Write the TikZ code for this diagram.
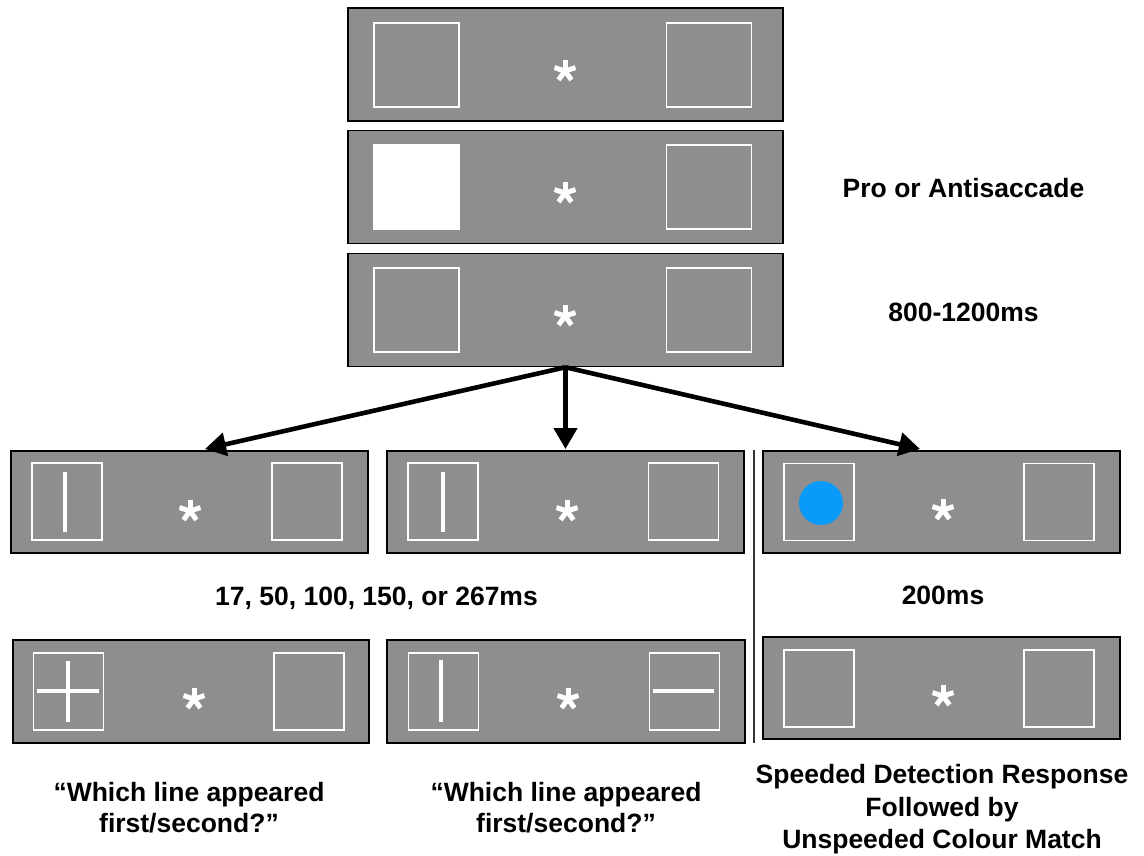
\documentclass[tikz,border=0pt]{standalone}
\usepackage{fontspec}
\setmainfont{Liberation Sans}
\usetikzlibrary{arrows.meta}
\definecolor{scr}{HTML}{8E8E8E}
\definecolor{dot}{HTML}{0A9BFA}
\tikzset{
  panel/.style={draw=black, line width=1.5pt, fill=scr, inner sep=0pt, minimum width=#1, minimum height=102pt},
  panel/.default=357pt,
  tpanel/.style={draw=black, line width=1.5pt, fill=scr, inner sep=0pt, minimum width=435pt, minimum height=113pt},
  tbox/.style={draw=white, line width=1.6pt, inner sep=0pt, minimum width=85pt, minimum height=84pt},
  bbox/.style={draw=white, line width=1.6pt, inner sep=0pt, minimum width=70pt, minimum height=77pt},
  bar/.style={draw=white, line width=3.5pt},
  flow/.style={line width=4.6pt, -{Triangle[length=21pt,width=23pt]}},
  lab/.style={font=\fontsize{26.5}{31}\selectfont\bfseries, align=center, inner sep=0pt},
  pics/fixstar/.style={code={
    \foreach \a in {90,18,162,-54,234} \draw[white, line width=5pt] (0,0) -- ++(\a:11pt);
  }}
}
\begin{document}
\begin{tikzpicture}[x=1pt, y=-1pt]
\useasboundingbox (0,0) rectangle (1144,856);

% top three screens
\node[tpanel] (p1) at (565.5,64.5) {};
\node[tbox] (p1L) at (416.5,65) {};
\node[tbox] (p1R) at (709,65) {};
\pic at (565,71) {fixstar};

\node[tpanel] (p2) at (565.5,187) {};
\node[tbox, fill=white] (p2L) at (416.5,187) {};
\node[tbox] (p2R) at (709,187) {};
\pic at (565,193) {fixstar};

\node[tpanel] (p3) at (565.5,310) {};
\node[tbox] (p3L) at (416.5,310) {};
\node[tbox] (p3R) at (709,310) {};
\pic at (565,316) {fixstar};

\node[lab] (tPro) at (963.5,188) {Pro or Antisaccade};
\node[lab] (tDelay) at (963.5,312) {800-1200ms};

% left column
\node[panel] (b1) at (189.5,502) {};
\node[bbox] (b1L) at (67,501.5) {};
\node[bbox] (b1R) at (307,501.5) {};
\draw[bar] (65,472) -- (65,532);
\pic at (190,511) {fixstar};

\node[panel=356pt, minimum height=103pt] (b2) at (191,691.5) {};
\node[bbox] (b2L) at (68.5,691.5) {};
\node[bbox] (b2R) at (309,691.5) {};
\draw[bar] (68,661) -- (68,722);
\draw[bar] (37,691) -- (99,691);
\pic at (194,699) {fixstar};

% middle column
\node[panel] (c1) at (565.5,502) {};
\node[bbox] (c1L) at (443,501.5) {};
\node[bbox] (c1R) at (683.5,501.5) {};
\draw[bar] (443,472) -- (443,532);
\pic at (567,511) {fixstar};

\node[panel=358pt, minimum height=103pt] (c2) at (566,691.5) {};
\node[bbox] (c2L) at (443.5,691.5) {};
\node[bbox] (c2R) at (684.5,691.5) {};
\draw[bar] (441,660) -- (441,722);
\draw[bar] (653,691) -- (714,691);
\pic at (568,699) {fixstar};

% right column
\node[panel] (d1) at (941.5,502) {};
\node[bbox] (d1L) at (819,502) {};
\node[bbox] (d1R) at (1059,502) {};
\fill[dot] (821,503) circle (22pt);
\pic at (943,510) {fixstar};

\node[panel] (d2) at (941.5,688) {};
\node[bbox] (d2L) at (819,688.5) {};
\node[bbox] (d2R) at (1059,688.5) {};
\pic at (943,696) {fixstar};

% separator
\coordinate (sepT) at (754,450);
\coordinate (sepB) at (754,743);
\draw[line width=2pt, black!80] (sepT) -- (sepB);

% arrows
\coordinate (aL) at (205,449);
\coordinate (aM) at (565.5,449);
\coordinate (aR) at (920,449);
\draw[flow] (p3.south) -- (aL);
\draw[flow] (p3.south) -- (aM);
\draw[flow] (p3.south) -- (aR);

% labels
\node[lab] (tSOA) at (376.5,598) {17, 50, 100, 150, or 267ms};
\node[lab] (t200) at (943,595) {200ms};
\node[lab] (q1) at (189,808) {“Which line appeared\\first/second?”};
\node[lab] (q2) at (566,808) {“Which line appeared\\first/second?”};
\node[lab, font=\fontsize{26.5}{32.5}\selectfont\bfseries] (tSpeed) at (942,809.5) {Speeded Detection Response\\Followed by\\Unspeeded Colour Match};
\end{tikzpicture}
\end{document}
